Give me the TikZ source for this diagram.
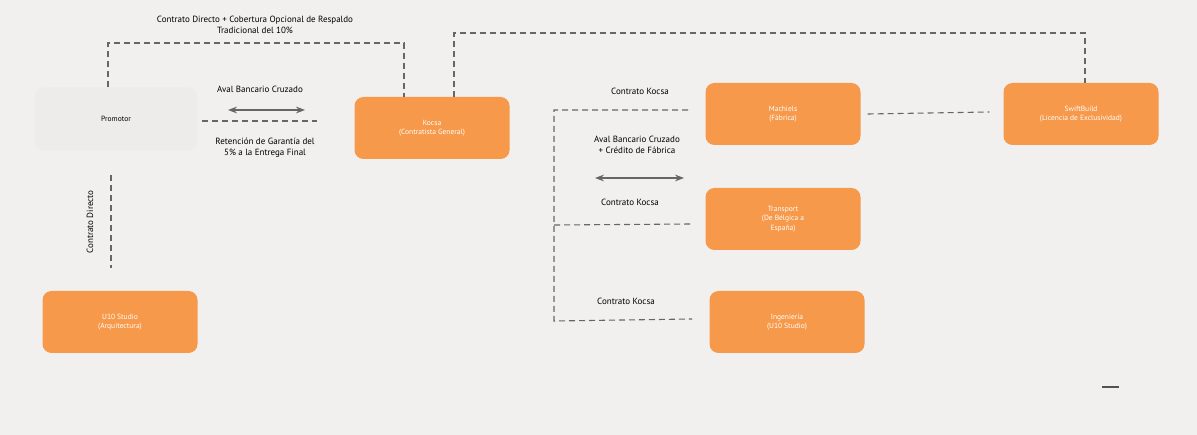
\documentclass[tikz,border=0pt]{standalone}
\usepackage{fontspec}
\setmainfont{PT Sans}
\definecolor{bgcol}{HTML}{F1F0EE}
\definecolor{promofill}{HTML}{EDECEA}
\definecolor{kocsaorange}{HTML}{F7994A}
\definecolor{linegray}{HTML}{666666}
\usetikzlibrary{arrows.meta, positioning, calc}

\begin{document}
\begin{tikzpicture}[
  x=1pt, y=-1pt,
  every node/.style={font=\fontsize{9}{11}\selectfont, align=center},
  orgbox/.style={rectangle, rounded corners=9pt, fill=kocsaorange, text=white,
    minimum width=155pt, minimum height=62pt, font=\fontsize{7.5}{9.5}\selectfont},
  link/.style={draw=linegray, dashed, dash pattern=on 6pt off 4pt, line width=1.1pt},
  swap/.style={draw=linegray, line width=1.4pt, {Stealth[length=9pt]}-{Stealth[length=9pt]}}
]
\fill[bgcol] (0,0) rectangle (1197,435);
\useasboundingbox (0,0) rectangle (1197,435);

% Parties
\node[orgbox, fill=promofill, text=black, minimum width=162pt, minimum height=63pt] (promotor) at (116,119) {Promotor};
\node[orgbox] (kocsa) at (432,128) {Kocsa\\(Contratista General)};
\node[orgbox] (machiels) at (783,114) {Machiels\\(Fábrica)};
\node[orgbox] (swift) at (1081,114) {SwiftBuild\\(Licencia de Exclusividad)};
\node[orgbox] (transport) at (783,219) {Transport\\(De Bélgica a\\España)};
\node[orgbox] (inge) at (787,322) {Ingeniería\\(U10 Studio)};
\node[orgbox] (u10) at (120,322) {U10 Studio\\(Arquitectura)};

% Contracts
\draw[link] (promotor.north -| 108,0) |- (256,43) -| (kocsa.north -| 404,0);
\node (toplbl) at (255,25) {Contrato Directo + Cobertura Opcional de Respaldo\\Tradicional del 10\%};
\draw[link] (kocsa.north -| 454,0) |- (770,33) -| (swift.north -| 1085,0);
\draw[link] (machiels.east) ++(7,0) coordinate (m1) -- ($(swift.west)+(-14,-2)$) coordinate (s1);

\coordinate (pk1) at (202,121);
\coordinate (pk2) at (317,121);
\draw[link] (pk1) -- (pk2);
\draw[swap] (228,110) coordinate (a1) -- (305,110) coordinate (a2);
\node (aval1) at (260,89) {Aval Bancario Cruzado};
\node (reten) at (265,148) {Retención de Garantía del\\5\% a la Entrega Final};

\coordinate (pu1) at (111,175);
\coordinate (pu2) at (111,268);
\draw[link] (pu1) -- (pu2);
\node[rotate=90] (dirlbl) at (90,222) {Contrato Directo};

% Kocsa suppliers
\coordinate (km) at (688,110);
\coordinate (kt) at (692,224);
\coordinate (ki) at (692,319);
\draw[link] (km) -| (554,321) -- (ki);
\draw[link] (554,225) -- (kt);
\draw[swap] (595,178) coordinate (b1) -- (684,178) coordinate (b2);
\node (ck1) at (640,91) {Contrato Kocsa};
\node (aval2) at (637,145) {Aval Bancario Cruzado\\+ Crédito de Fábrica};
\node (ck2) at (630,202) {Contrato Kocsa};
\node (ck3) at (626,301) {Contrato Kocsa};

\draw[linegray!80!black, line width=1.2pt] (1102,387) coordinate (d1) -- (1119,387) coordinate (d2);
\end{tikzpicture}
\end{document}
